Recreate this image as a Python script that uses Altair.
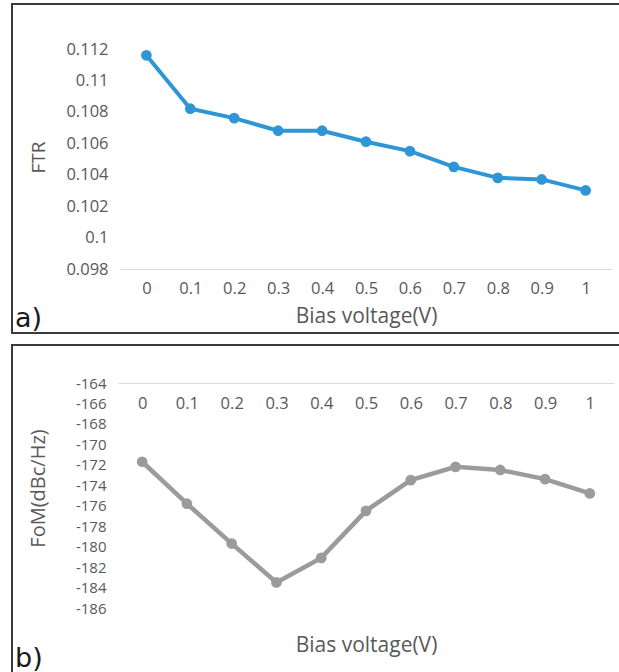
import altair as alt
import pandas as pd

bias = ["0", "0.1", "0.2", "0.3", "0.4", "0.5", "0.6", "0.7", "0.8", "0.9", "1"]
ftr = [0.1116, 0.1082, 0.1076, 0.1068, 0.1068, 0.1061, 0.1055, 0.1045, 0.1038, 0.1037, 0.1030]
fom = [-171.7, -175.8, -179.7, -183.5, -181.1, -176.5, -173.5, -172.2, -172.5, -173.4, -174.8]
ftr_ticks = [0.098, 0.1, 0.102, 0.104, 0.106, 0.108, 0.11, 0.112]
fom_ticks = [-186, -184, -182, -180, -178, -176, -174, -172, -170, -168, -166, -164]

df_a = pd.DataFrame({"bias": bias, "ftr": ftr})
df_b = pd.DataFrame({"bias": bias, "fom": fom})

W, H = 619, 672
FONT = "Open Sans"
LBL = "#595959"
BLUE = "#2E96D5"
GRAY = "#9B9B9B"
LS = 16.5   # tick label size
TS = 21     # x title size

# ---------- panel a ----------
xa = alt.X(
    "bias:N", sort=bias,
    scale=alt.Scale(type="point", range=[120, 612], padding=0.6),
    axis=alt.Axis(orient="bottom", offset=-(H - 269), domainColor="#d9d9d9", domainWidth=1,
                  ticks=False, grid=False, labelAngle=0, labelPadding=11, labelFontSize=LS,
                  labelFont=FONT, labelColor=LBL,
                  title="Bias voltage(V)", titleFont=FONT, titleFontSize=TS, titleFontWeight="normal",
                  titleColor=LBL, titleY=47, titleBaseline="middle"),
)
ya = alt.Y(
    "ftr:Q",
    scale=alt.Scale(domain=[0.098, 0.112], range=[269, 49], nice=False, zero=False),
    axis=alt.Axis(orient="left", offset=-111, values=ftr_ticks, labelExpr="'' + datum.value",
                  domain=False, ticks=False, grid=False, labelPadding=3, labelFontSize=LS,
                  labelFont=FONT, labelColor=LBL,
                  title="FTR", titleFont=FONT, titleFontSize=19, titleFontWeight="normal",
                  titleColor=LBL, titleX=-73, titleY=157, titleAngle=270,
                  titleAlign="center", titleBaseline="middle"),
)
line_a = alt.Chart(df_a).mark_line(color=BLUE, strokeWidth=4).encode(x=xa, y=ya)
pts_a = alt.Chart(df_a).mark_circle(color=BLUE, size=115, opacity=1).encode(x=xa, y=ya)
panel_a = alt.layer(line_a, pts_a)

# ---------- panel b ----------
xb = alt.X(
    "bias:N", sort=bias,
    scale=alt.Scale(type="point", range=[118, 614], padding=0.54),
    axis=alt.Axis(orient="bottom", offset=-(H - 383), domainColor="#d9d9d9", domainWidth=1,
                  ticks=False, grid=False, labelAngle=0, labelPadding=12, labelFontSize=LS,
                  labelFont=FONT, labelColor=LBL,
                  title="Bias voltage(V)", titleFont=FONT, titleFontSize=TS, titleFontWeight="normal",
                  titleColor=LBL, titleY=262, titleBaseline="middle"),
)
yb = alt.Y(
    "fom:Q",
    scale=alt.Scale(domain=[-186, -164], range=[608, 383], nice=False, zero=False),
    axis=alt.Axis(orient="left", offset=-109, values=fom_ticks, labelExpr="'' + datum.value",
                  domain=False, ticks=False, grid=False, labelPadding=3, labelFontSize=15,
                  labelFont=FONT, labelColor=LBL,
                  title="FoM(dBc/Hz)", titleFont=FONT, titleFontSize=20, titleFontWeight="normal",
                  titleColor=LBL, titleX=-71, titleY=488, titleAngle=270,
                  titleAlign="center", titleBaseline="middle"),
)
line_b = alt.Chart(df_b).mark_line(color=GRAY, strokeWidth=4.5).encode(x=xb, y=yb)
pts_b = alt.Chart(df_b).mark_circle(color=GRAY, size=115, opacity=1).encode(x=xb, y=yb)
panel_b = alt.layer(line_b, pts_b)

# ---------- frames and panel letters ----------
one = alt.Data(values=[{"k": 1}])
frame_a = alt.Chart(one).mark_rect(fill=None, stroke="#3a3a3a", strokeWidth=2).encode(
    x=alt.value(12), x2=alt.value(660), y=alt.value(4), y2=alt.value(333))
frame_b = alt.Chart(one).mark_rect(fill=None, stroke="#3a3a3a", strokeWidth=2).encode(
    x=alt.value(12), x2=alt.value(660), y=alt.value(345), y2=alt.value(720))
text_a = alt.Chart(one).mark_text(text="a)", font="DejaVu Sans", fontSize=27, color="#1a1a1a",
                                  align="left", baseline="alphabetic").encode(
    x=alt.value(15), y=alt.value(327))
text_b = alt.Chart(one).mark_text(text="b)", font="DejaVu Sans", fontSize=27, color="#1a1a1a",
                                  align="left", baseline="alphabetic").encode(
    x=alt.value(15), y=alt.value(667))

chart = alt.layer(frame_a, frame_b, panel_a, panel_b, text_a, text_b).resolve_scale(
    x="independent", y="independent"
).properties(
    width=W, height=H, autosize=alt.AutoSizeParams(type="none"), padding=0,
    background="white",
).configure_view(stroke=None)

chart.save("out.html", embed_options={"renderer": "svg", "actions": False})
